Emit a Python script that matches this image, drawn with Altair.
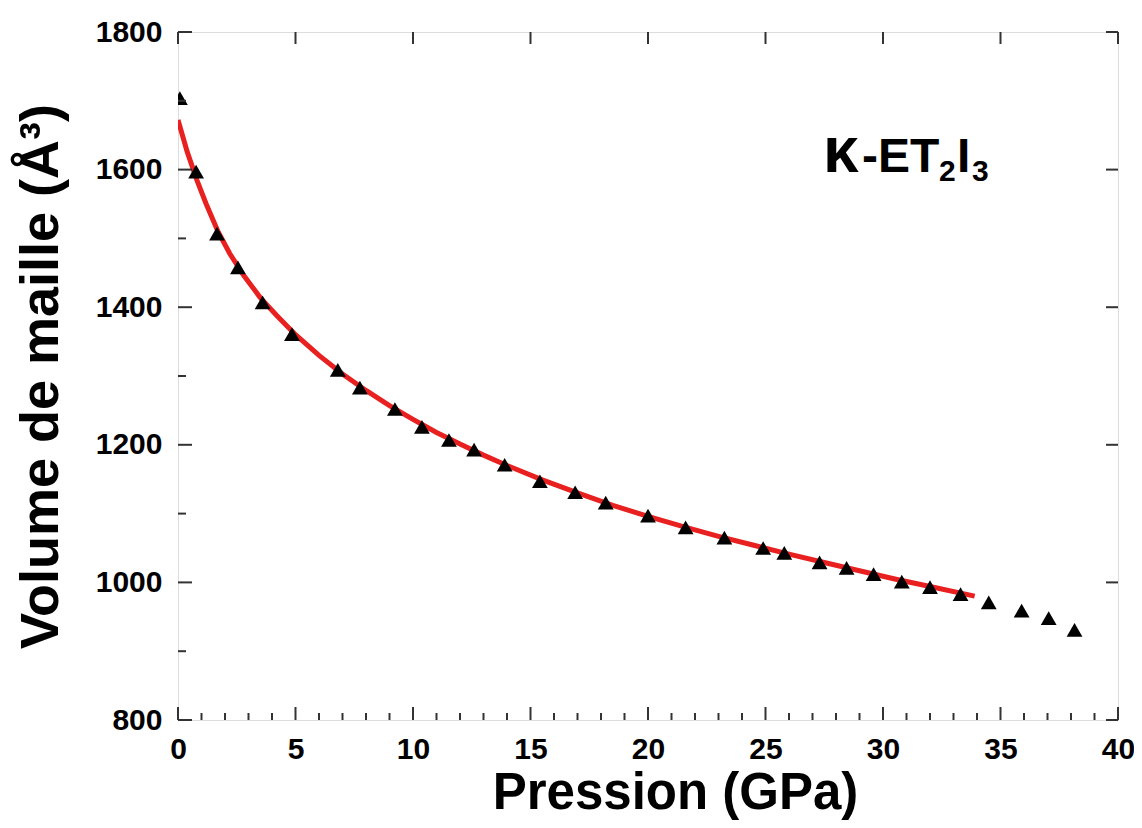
import altair as alt
import pandas as pd

# measured points (pressure GPa, cell volume A^3)
pressure = [0.08, 0.77, 1.66, 2.55, 3.6, 4.85, 6.8, 7.74, 9.23, 10.38, 11.53, 12.6, 13.9,
            15.4, 16.9, 18.2, 20.0, 21.6, 23.25, 24.9, 25.8, 27.3, 28.45, 29.6, 30.8,
            32.0, 33.3, 34.5, 35.9, 37.05, 38.15]
volume = [1704, 1597, 1507, 1458, 1407, 1361, 1309, 1283, 1252, 1226, 1207, 1193, 1171,
          1147, 1131, 1116, 1097, 1080, 1065, 1050, 1043, 1029, 1021, 1012, 1001,
          993, 983, 971, 959, 948, 931]

# fitted curve
fit_p = [0, 0.4, 0.8, 1.2, 1.7, 2.2, 2.8, 3.5, 4.2, 5.0, 6.0, 7.0, 8.0, 9.0, 10.0, 11.0,
         12.0, 13.0, 14.0, 15.5, 17.0, 18.5, 20.0, 21.5, 23.0, 24.5, 26.0, 27.5, 29.0,
         30.5, 32.0, 33.9]
fit_v = [1672, 1625, 1585, 1550, 1510, 1478, 1446, 1414, 1388, 1360, 1330, 1303, 1279,
         1257, 1237, 1218, 1201, 1185, 1170, 1149, 1130, 1112, 1096, 1081, 1067, 1054,
         1041, 1029, 1017, 1005, 994, 980]

x_major = [0, 5, 10, 15, 20, 25, 30, 35, 40]
x_minor = [v for v in range(0, 41) if v % 5 != 0]
y_major = [800, 1000, 1200, 1400, 1600, 1800]
y_minor = [900, 1100, 1300, 1500, 1700]

W, H = 940, 688
FONT = "Liberation Sans"
FRAME = "#333333"

xscale = alt.Scale(domain=[0, 40], nice=False, zero=False)
yscale = alt.Scale(domain=[800, 1800], nice=False, zero=False)

xaxis = alt.Axis(values=x_major, format="d", ticks=False, tickSize=0, domain=False, grid=False,
                 labelFont=FONT, labelFontSize=30, labelFontWeight="bold", labelColor="black",
                 labelPadding=14, labelFlush=False,
                 title="Pression (GPa)", titleFont=FONT, titleFontSize=51,
                 titleFontWeight="bold", titleColor="black", titlePadding=4, titleX=497)
yaxis = alt.Axis(values=y_major, format="d", ticks=False, tickSize=0, domain=False, grid=False,
                 labelFont=FONT, labelFontSize=30, labelFontWeight="bold", labelColor="black",
                 labelPadding=16, labelFlush=False,
                 title="Volume de maille (Å³)", titleFont=FONT, titleFontSize=54,
                 titleFontWeight="bold", titleColor="black", titlePadding=27)

X = lambda: alt.X("P:Q", scale=xscale, axis=xaxis)
Y = lambda: alt.Y("V:Q", scale=yscale, axis=yaxis)

pts = pd.DataFrame({"P": pressure, "V": volume})
fit = pd.DataFrame({"P": fit_p, "V": fit_v})

line = alt.Chart(fit).mark_line(color="#e8201f", strokeWidth=5, clip=True).encode(x=X(), y=Y())
points = alt.Chart(pts).mark_point(shape="triangle-up", filled=True, color="black",
                                   size=250, opacity=1, clip=True).encode(x=X(), y=Y())

def tick_rules(vals, axis_side, length):
    df = pd.DataFrame({"P": vals}) if axis_side in ("bottom", "top") else pd.DataFrame({"V": vals})
    m = alt.Chart(df).mark_rule(color=FRAME, strokeWidth=2)
    if axis_side == "bottom":
        return m.encode(x=X(), y=alt.value(H), y2=alt.value(H - length))
    if axis_side == "top":
        return m.encode(x=X(), y=alt.value(0), y2=alt.value(length))
    if axis_side == "left":
        return m.encode(y=Y(), x=alt.value(0), x2=alt.value(length))
    return m.encode(y=Y(), x=alt.value(W), x2=alt.value(W - length))

ticks = [
    tick_rules(x_major, "bottom", 13),
    tick_rules(x_minor, "bottom", 7),
    tick_rules(x_major, "top", 12),
    tick_rules(y_major, "left", 14),
    tick_rules(y_minor, "left", 8),
    tick_rules(y_major, "right", 12),
]

def label(txt, px, py, size):
    return alt.Chart(pd.DataFrame({"t": [txt]})).mark_text(
        font=FONT, fontWeight="bold", fontSize=size, color="black",
        align="left", baseline="alphabetic").encode(
        x=alt.value(px), y=alt.value(py), text="t:N")

ann = [
    label("κ", 645, 140, 64),
    label("-ET", 684, 140, 48),
    label("2", 761, 149, 30),
    label("I", 779, 140, 48),
    label("3", 794, 149, 30),
]

chart = alt.layer(line, points, *ticks, *ann).properties(
    width=W, height=H,
    autosize=alt.AutoSizeParams(type="none"),
    padding={"left": 170, "top": 24, "right": 16, "bottom": 100},
).configure_view(stroke=FRAME, strokeWidth=2).configure(background="white")

chart.save("out.html", embed_options={"renderer": "svg", "actions": False})
